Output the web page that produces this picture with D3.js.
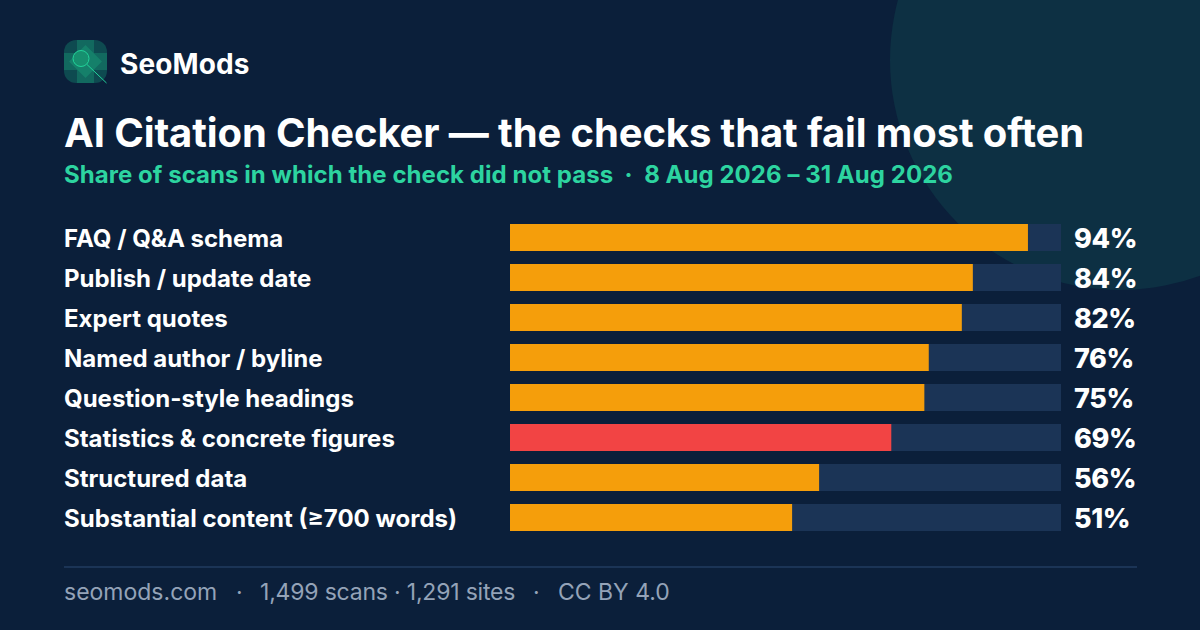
<!DOCTYPE html>
<html>
<head>
<meta charset="utf-8">
<title>AI Citation Checker</title>
<script src="https://d3js.org/d3.v7.min.js"></script>
<style>
  html, body { margin: 0; padding: 0; background: #0b1f3a; }
  svg { display: block; }
  text { font-family: Inter, sans-serif; }
</style>
</head>
<body>
<div id="chart"></div>
<script>
// chart values
var checks = ["FAQ / Q&A schema", "Publish / update date", "Expert quotes", "Named author / byline",
  "Question-style headings", "Statistics & concrete figures", "Structured data", "Substantial content (≥700 words)"];
var failShare = [94, 84, 82, 76, 75.2, 69.2, 56.1, 51.2];
var highlighted = ["Statistics & concrete figures"];

var titleText = "AI Citation Checker — the checks that fail most often";
var subtitleText = "Share of scans in which the check did not pass  ·  8 Aug 2026 – 31 Aug 2026";
var footerParts = ["seomods.com", "·", "1,499 scans · 1,291 sites", "·", "CC BY 4.0"];

var svg = d3.select("#chart").append("svg").attr("width", 1200).attr("height", 630);

svg.append("rect").attr("width", 1200).attr("height", 630).attr("fill", "#0b1f3a");
svg.append("circle").attr("cx", 1120).attr("cy", 60).attr("r", 230).attr("fill", "#0d3043");

// logo
var defs = svg.append("defs");
defs.append("clipPath").attr("id", "logoClip").append("rect")
  .attr("width", 43).attr("height", 43).attr("rx", 12);

var logo = svg.append("g").attr("transform", "translate(64,40)");
var tiles = logo.append("g").attr("clip-path", "url(#logoClip)");
tiles.append("rect").attr("width", 43).attr("height", 43).attr("fill", "#0e4a50");
tiles.append("rect").attr("x", 13).attr("width", 17).attr("height", 43).attr("fill", "#12695f");
tiles.append("rect").attr("y", 13).attr("width", 43).attr("height", 17).attr("fill", "#12695f");
tiles.append("path").attr("d", "M21.5 5L38 21.5L21.5 38L5 21.5Z").attr("fill", "#15806a");

logo.append("circle").attr("cx", 17).attr("cy", 18.5).attr("r", 8).attr("fill", "#16906f")
  .attr("stroke", "#22d39a").attr("stroke-width", 1);
logo.append("line").attr("x1", 23).attr("y1", 24.5).attr("x2", 42.5).attr("y2", 43)
  .attr("stroke", "#22d39a").attr("stroke-width", 1);

svg.append("text").attr("x", 120).attr("y", 74).attr("fill", "#fff")
  .attr("font-size", 28).attr("font-weight", 700).style("letter-spacing", "0.1px").text("SeoMods");
svg.append("text").attr("x", 64).attr("y", 147).attr("fill", "#fff")
  .attr("font-size", 40).attr("font-weight", 700).style("letter-spacing", "-0.12px").text(titleText);
svg.append("text").attr("x", 64).attr("y", 183).attr("fill", "#2dd4a0").attr("xml:space", "preserve")
  .attr("font-size", 24).attr("font-weight", 700).style("letter-spacing", "0.05px").text(subtitleText);

// scales
var x = d3.scaleLinear().domain([0, 100]).range([510, 1061]);
var y = d3.scaleBand().domain(checks).range([224, 531]).paddingInner(13 / 40).paddingOuter(0);

var rows = svg.selectAll("g.row").data(checks).enter().append("g").attr("class", "row");

rows.append("rect")
  .attr("x", x(0)).attr("y", function (d) { return y(d); })
  .attr("width", x(100) - x(0)).attr("height", y.bandwidth())
  .attr("fill", "#1b3456");

rows.append("rect")
  .attr("x", x(0)).attr("y", function (d) { return y(d); })
  .attr("width", function (d, i) { return x(failShare[i]) - x(0); })
  .attr("height", y.bandwidth())
  .attr("fill", function (d) { return highlighted.indexOf(d) >= 0 ? "#f24444" : "#f59e0b"; });

rows.append("text")
  .attr("x", 64).attr("y", function (d) { return y(d) + y.bandwidth() / 2 + 9; })
  .attr("fill", "#fff").attr("font-size", 24).attr("font-weight", 700)
  .text(function (d) { return d; });

rows.append("text")
  .attr("x", 1074).attr("y", function (d) { return y(d) + y.bandwidth() / 2 + 10; })
  .attr("fill", "#fff").attr("font-size", 27).attr("font-weight", 800)
  .style("letter-spacing", "-0.4px")
  .text(function (d, i) { return Math.round(failShare[i]) + "%"; });

// footer
svg.append("line").attr("x1", 64).attr("x2", 1137).attr("y1", 567).attr("y2", 567)
  .attr("stroke", "#1b3456").attr("stroke-width", 2);

var footerX = [64, 236, 260, 533, 558];
var footerTrack = [0, 0, -0.2, 0, 0];
svg.selectAll("text.foot").data(footerParts).enter().append("text").attr("class", "foot")
  .attr("x", function (d, i) { return footerX[i]; }).attr("y", 600)
  .attr("fill", "#94a3b8").attr("font-size", 23)
  .style("letter-spacing", function (d, i) { return footerTrack[i] + "px"; })
  .text(function (d) { return d; });
</script>
</body>
</html>
